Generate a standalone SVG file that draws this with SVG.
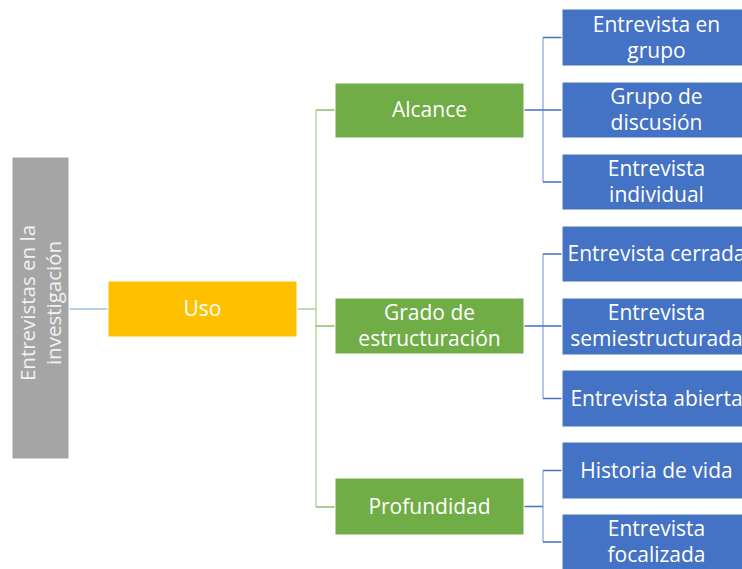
<svg xmlns="http://www.w3.org/2000/svg" width="742" height="569" viewBox="0 0 742 569">
<style>
text{font-family:"Open Sans","Noto Sans","DejaVu Sans",sans-serif;font-size:21px;fill:#ffffff;text-anchor:middle}
.box{stroke:#ffffff;stroke-width:1}
.gray{fill:#A5A5A5}
.orange{fill:#FFC000}
.green{fill:#70AD47}
.blue{fill:#4472C4}
.c{fill:none;stroke-width:1.3}
.lb{stroke:#9DC3E6}
.lg{stroke:#A9D18E}
.dg{stroke:#8CC06A}
.db{stroke:#4472C4}
.pb{stroke:#8FAADC}
</style>
<g id="connectors">
<path class="c lb" d="M69,309H108"/>
<path class="c lg" d="M297,309H316M316,110V507"/>
<path class="c dg" d="M316,110H335M316,326H335M316,507H335"/>
<path class="c pb" d="M543,37.5V182"/>
<path class="c db" d="M524,110H562M543,37.5H562M543,182H562"/>
<path class="c pb" d="M543,254V398.5"/>
<path class="c db" d="M524,326H562M543,254H562M543,398.5H562"/>
<path class="c pb" d="M543,470.5V542"/>
<path class="c db" d="M524,506.5H543M543,470.5H562M543,542H562"/>
</g>
<g id="root">
<rect class="box gray" x="12" y="157" width="57" height="302"/>
<g transform="translate(40,303) rotate(-90)">
<text x="0" y="-5" style="fill:#F2F2F2;font-size:20.5px">Entrevistas en la</text>
<text x="0" y="21" style="fill:#F2F2F2;font-size:20.5px">investigación</text>
</g>
</g>
<g id="uso">
<rect class="box orange" x="108" y="281" width="189" height="56"/>
<text x="202.5" y="316">Uso</text>
</g>
<g id="alcance">
<rect class="box green" x="335" y="83" width="189" height="55"/>
<text x="429.5" y="117">Alcance</text>
</g>
<g id="grado">
<rect class="box green" x="335" y="298" width="189" height="56"/>
<text x="429.5" y="320">Grado de</text>
<text x="429.5" y="346">estructuración</text>
</g>
<g id="profundidad">
<rect class="box green" x="335" y="478" width="189" height="57"/>
<text x="429.5" y="513.5">Profundidad</text>
</g>
<g id="grupo">
<rect class="box blue" x="562" y="9" width="189" height="57"/>
<text x="656.5" y="31.5">Entrevista en</text>
<text x="656.5" y="57.5">grupo</text>
</g>
<g id="discusion">
<rect class="box blue" x="562" y="82" width="189" height="56"/>
<text x="656.5" y="104">Grupo de</text>
<text x="656.5" y="130">discusión</text>
</g>
<g id="individual">
<rect class="box blue" x="562" y="154" width="189" height="56"/>
<text x="656.5" y="176">Entrevista</text>
<text x="656.5" y="202">individual</text>
</g>
<g id="cerrada">
<rect class="box blue" x="562" y="226" width="189" height="56"/>
<text x="656.5" y="261">Entrevista cerrada</text>
</g>
<g id="semi">
<rect class="box blue" x="562" y="298" width="189" height="57"/>
<text x="656.5" y="320">Entrevista</text>
<text x="656.5" y="346">semiestructurada</text>
</g>
<g id="abierta">
<rect class="box blue" x="562" y="370" width="189" height="57"/>
<text x="656.5" y="405.5">Entrevista abierta</text>
</g>
<g id="historia">
<rect class="box blue" x="562" y="442" width="189" height="57"/>
<text x="656.5" y="477.5">Historia de vida</text>
</g>
<g id="focalizada">
<rect class="box blue" x="562" y="514" width="189" height="57"/>
<text x="656.5" y="536">Entrevista</text>
<text x="656.5" y="562">focalizada</text>
</g>
</svg>
